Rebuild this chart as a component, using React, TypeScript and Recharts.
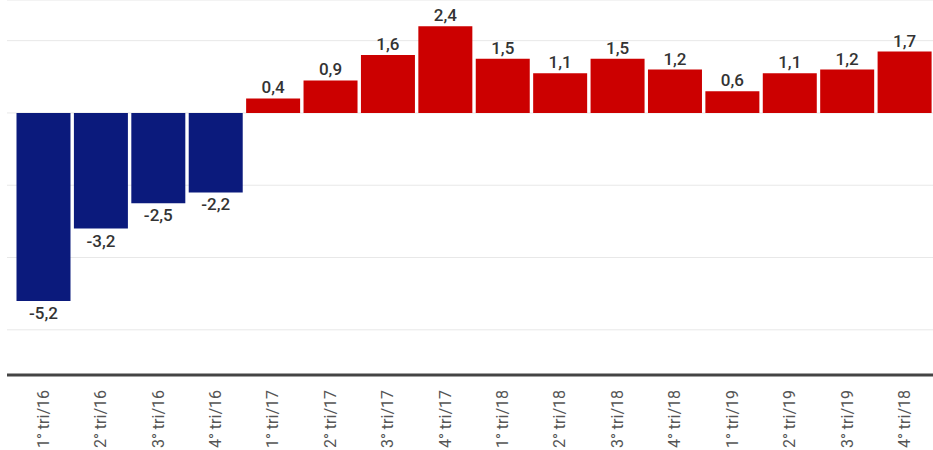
import React from "react";
import { BarChart, Bar, XAxis, YAxis, CartesianGrid, Cell, LabelList } from "recharts";

const categories = [
  "1° tri/16", "2° tri/16", "3° tri/16", "4° tri/16",
  "1° tri/17", "2° tri/17", "3° tri/17", "4° tri/17",
  "1° tri/18", "2° tri/18", "3° tri/18", "4° tri/18",
  "1° tri/19", "2° tri/19", "3° tri/19", "4° tri/18",
];
const values = [-5.2, -3.2, -2.5, -2.2, 0.4, 0.9, 1.6, 2.4, 1.5, 1.1, 1.5, 1.2, 0.6, 1.1, 1.2, 1.7];
const yTicks = [-6, -4, -2, 0, 2];
const yDomain = [-7.25, 3.125];

const data = categories.map((name, i) => ({ name, value: values[i] }));

const fmt = (v: number) => v.toFixed(1).replace(".", ",");

const BarLabel = (props: any) => {
  const { x, y, width, height, value } = props;
  const top = Math.min(y, y + height);
  const bottom = Math.max(y, y + height);
  const cx = x + width / 2;
  if (value >= 0) {
    return (
      <text x={cx} y={top - 5} textAnchor="middle" fill="#333" fontSize={17} fontWeight={500} fontFamily="Roboto">
        {fmt(value)}
      </text>
    );
  }
  return (
    <text x={cx} y={bottom + 18} textAnchor="middle" fill="#333" fontSize={17} fontWeight={500} fontFamily="Roboto">
      {fmt(value)}
    </text>
  );
};

const XTick = (props: any) => {
  const { x, y, payload } = props;
  return (
    <g transform={`translate(${x},${y + 7})`}>
      <text transform="rotate(-90)" textAnchor="end" dy="0.35em" fill="#555" fontSize={16} fontFamily="Roboto">
        {payload.value}
      </text>
    </g>
  );
};

export default function App() {
  return (
    <div style={{ position: "absolute", left: 0, top: 0, background: "#fff" }}>
      <BarChart width={933} height={450} data={data} margin={{ top: 0, right: 0, bottom: 0, left: 7 }}>
        <CartesianGrid vertical={false} stroke="#e8e8e8" />
        <XAxis
          dataKey="name"
          interval={0}
          height={75}
          padding={{ left: 7.5, right: 0 }}
          axisLine={{ stroke: "#444", strokeWidth: 3 }}
          tickLine={false}
          tick={<XTick />}
        />
        <YAxis hide domain={yDomain} ticks={yTicks} type="number" allowDataOverflow />
        <Bar dataKey="value" barSize={54} isAnimationActive={false}>
          {data.map((d, i) => (
            <Cell key={i} fill={d.value < 0 ? "#0b1a7c" : "#cc0000"} />
          ))}
          <LabelList dataKey="value" content={<BarLabel />} />
        </Bar>
      </BarChart>
    </div>
  );
}
